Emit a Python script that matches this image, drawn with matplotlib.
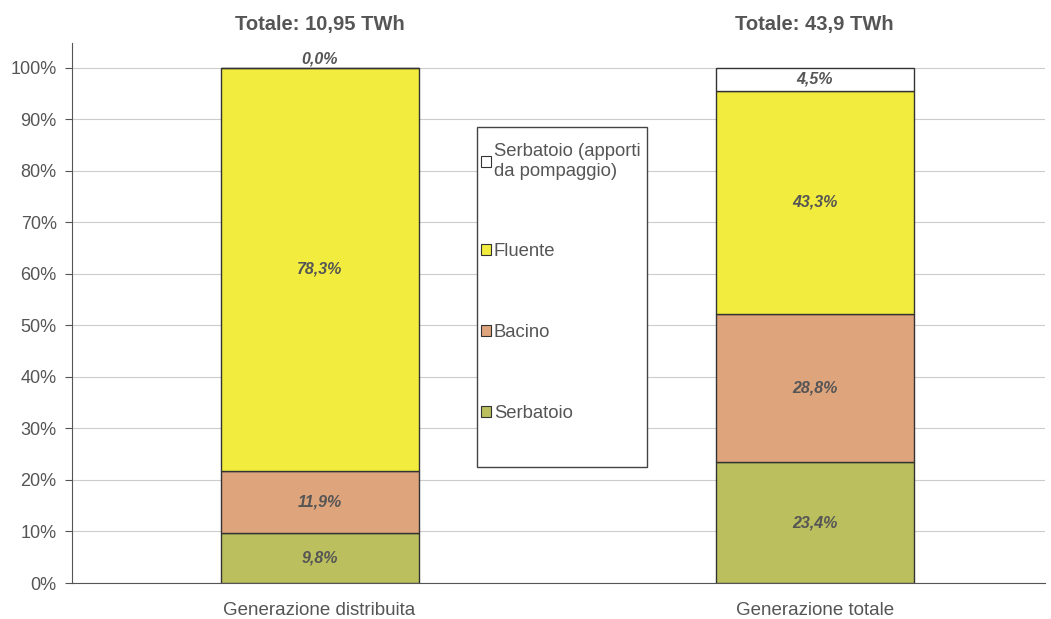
import numpy as np
from matplotlib import pyplot as plt
from matplotlib.patches import Patch, Rectangle

categories = ['Generazione distribuita', 'Generazione totale']
totals = ['Totale: 10,95 TWh', 'Totale: 43,9 TWh']
series = ['Serbatoio', 'Bacino', 'Fluente', 'Serbatoio (apporti\nda pompaggio)']
serbatoio = [9.8, 23.4]
bacino = [11.9, 28.8]
fluente = [78.3, 43.3]
pompaggio = [0.0, 4.5]
colors = ['#bcbf5e', '#dea47c', '#f2ec3e', '#ffffff']

grey = '#555555'
plt.rcParams['font.family'] = ['Liberation Sans', 'DejaVu Sans']

fig = plt.figure(figsize=(10.51, 6.19), dpi=100)
ax = fig.add_axes([72/1051, 1-583/619, (1045-72)/1051, 540/619])

x = np.arange(len(categories))
width = 0.4
bottom = np.zeros(len(categories))
for vals, col in zip([serbatoio, bacino, fluente, pompaggio], colors):
	v = np.array(vals)/100.0
	ax.bar(x, v, width, bottom=bottom, color=col, edgecolor='#333333', linewidth=1.0, zorder=3)
	for i in range(len(x)):
		if vals[i] > 0:
			ypos = bottom[i]+v[i]/2
		else:
			ypos = bottom[i]+0.016
		ax.text(x[i], ypos, ('%.1f%%' % vals[i]).replace('.', ','), ha='center', va='center',
			fontsize=11.5, fontstyle='italic', fontweight='bold', color=grey, zorder=4)
	bottom = bottom+v

for i in range(len(x)):
	ax.text(x[i], 1.0+0.083, totals[i], ha='center', va='center', fontsize=14.5,
		fontweight='bold', color=grey, clip_on=False)

ax.set_xlim(-0.5, 1.465)
ax.set_ylim(0, 1.048)
ax.set_yticks(np.arange(0, 1.01, 0.1))
ax.set_yticklabels(['%d%%' % round(t*100) for t in np.arange(0, 1.01, 0.1)])
ax.set_xticks(x)
ax.set_xticklabels(categories)
ax.tick_params(axis='y', labelsize=13, labelcolor=grey, color=grey, length=5, direction='out', pad=6)
ax.tick_params(axis='x', labelsize=13.5, labelcolor=grey, length=0, pad=14)
ax.grid(axis='y', color='#cccccc', linewidth=0.8, zorder=0)
for s in ['top', 'right']:
	ax.spines[s].set_visible(False)
ax.spines['left'].set_color(grey)
ax.spines['bottom'].set_color(grey)

# legend box drawn separately, entries without frame
ax.add_patch(Rectangle((477/1051, 1-467/619), 170/1051, 340/619, transform=fig.transFigure,
	facecolor='white', edgecolor='#444444', linewidth=1.0, zorder=5, clip_on=False))
handles = [Patch(facecolor=c, edgecolor='#333333', linewidth=0.8) for c in colors]
leg = ax.legend(handles[::-1], series[::-1], loc='upper left',
	bbox_to_anchor=(481/1051, 1-143/619), bbox_transform=fig.transFigure,
	fontsize=13.3, labelspacing=3.45, handlelength=0.55, handleheight=0.55, handletextpad=0.15,
	borderpad=0, borderaxespad=0, frameon=False, labelcolor=grey)
leg.set_zorder(6)

plt.savefig('out.png', dpi=100)
